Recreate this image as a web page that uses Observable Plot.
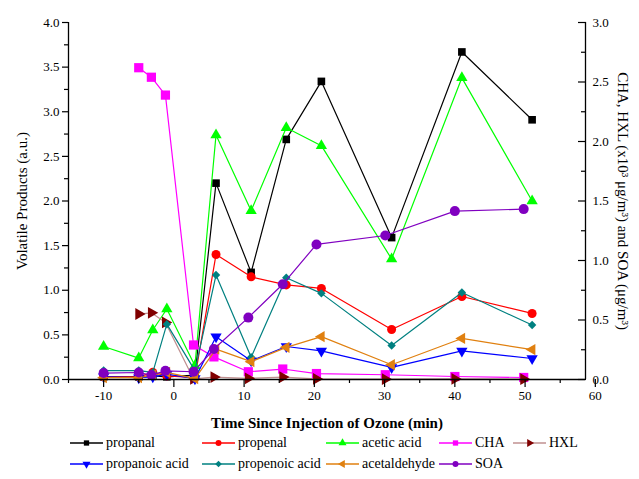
<!DOCTYPE html>
<html>
<head>
<meta charset="utf-8">
<script src="https://cdn.jsdelivr.net/npm/d3@7"></script>
<script src="https://cdn.jsdelivr.net/npm/@observablehq/plot@0.6"></script>
<style>
  html, body { margin: 0; padding: 0; background: #fff; }
  #wrap { width: 639px; height: 479px; position: relative; font-family: "Liberation Serif", "DejaVu Serif", serif; }
  #legend { position: relative; width: 639px; height: 47px; font-size: 14px; font-family: "Liberation Serif", "DejaVu Serif", serif; }
  .item { position: absolute; display: flex; align-items: center; height: 21px; white-space: nowrap; }
  .item svg { margin-right: 3px; }
  #chart svg text { font-family: "Liberation Serif", "DejaVu Serif", serif; }
</style>
</head>
<body>
<div id="wrap"><div id="chart"></div><div id="legend"></div></div>
<script>
// ---- data ----
const timeVolatile = [-10, -5, -3, -1, 3, 6, 11, 16, 21, 31, 41, 51];
const timeAerosol = [-10, -5, -3.2, -1.2, 2.8, 5.7, 10.6, 15.5, 20.3, 30.1, 40, 49.8];
const timeCHA = [-5, -3.2, -1.2, 2.8, 5.7, 10.6, 15.5, 20.3, 30.1, 40, 49.8];

// left axis (a.u.)
const propanal     = [0.03, 0.03, 0.04, 0.03, 0.05, 2.20, 1.20, 2.69, 3.34, 1.59, 3.67, 2.91];
const propenal     = [0.03, 0.03, 0.08, 0.04, 0.02, 1.40, 1.15, 1.06, 1.02, 0.56, 0.93, 0.74];
const aceticAcid   = [0.37, 0.24, 0.555, 0.79, 0.155, 2.74, 1.89, 2.82, 2.62, 1.35, 3.38, 2.00];
const propanoicAcid= [0.03, 0.02, 0.03, 0.06, 0.01, 0.48, 0.21, 0.37, 0.32, 0.135, 0.32, 0.235];
const propenoicAcid= [0.10, 0.10, 0.08, 0.62, 0.10, 1.17, 0.25, 1.14, 0.965, 0.38, 0.975, 0.61];
const acetaldehyde = [0.02, 0.02, 0.05, 0.08, 0.01, 0.34, 0.20, 0.36, 0.48, 0.165, 0.46, 0.335];
// right axis (x10^3 ug/m3 for CHA, HXL; ug/m3 for SOA)
const cha = [2.62, 2.54, 2.39, 0.29, 0.19, 0.065, 0.088, 0.05, 0.04, 0.025, 0.017];
const hxl = [0.55, 0.56, 0.48, 0.005, 0.02, 0.01, 0.02, 0.005, 0.003, 0.005, 0.003];
const soa = [0.054, 0.059, 0.037, 0.073, 0.065, 0.256, 0.52, 0.80, 1.135, 1.21, 1.415, 1.432];

const leftTicks = [0, 0.5, 1.0, 1.5, 2.0, 2.5, 3.0, 3.5, 4.0];
const rightTicks = [0, 0.5, 1.0, 1.5, 2.0, 2.5, 3.0];
const xTicks = [-10, 0, 10, 20, 30, 40, 50, 60];

// ---- symbols ----
function tri(angle) {
  const c = Math.cos(angle), s = Math.sin(angle);
  return {
    draw(ctx, size) {
      const y = -Math.sqrt(size / (Math.sqrt(3) * 3));
      const pts = [[0, 2 * y], [-Math.sqrt(3) * y, -y], [Math.sqrt(3) * y, -y]]
        .map(([px, py]) => [px * c - py * s, px * s + py * c]);
      ctx.moveTo(pts[0][0], pts[0][1]);
      ctx.lineTo(pts[1][0], pts[1][1]);
      ctx.lineTo(pts[2][0], pts[2][1]);
      ctx.closePath();
    }
  };
}
const triUp = tri(0), triDown = tri(Math.PI), triRight = tri(Math.PI / 2), triLeft = tri(-Math.PI / 2);

const ratio = 0.75; // right value = left value * 0.75

const series = [
  {name: "propanal", t: timeVolatile, v: propanal, right: false, color: "#000000", line: "#000000", symbol: "square", r: 4.3},
  {name: "propenal", t: timeVolatile, v: propenal, right: false, color: "#ff0000", line: "#ff0000", symbol: "circle", r: 4.5},
  {name: "acetic acid", t: timeVolatile, v: aceticAcid, right: false, color: "#00ff00", line: "#00ff00", symbol: triUp, r: 4.2},
  {name: "CHA", t: timeCHA, v: cha, right: true, color: "#ff00ff", line: "#ff00ff", symbol: "square", r: 5.2},
  {name: "HXL", t: timeCHA, v: hxl, right: true, color: "#800000", line: "#c09090", symbol: triRight, r: 4.4},
  {name: "propanoic acid", t: timeVolatile, v: propanoicAcid, right: false, color: "#0000ff", line: "#0000ff", symbol: triDown, r: 4.2},
  {name: "propenoic acid", t: timeVolatile, v: propenoicAcid, right: false, color: "#008080", line: "#008080", symbol: "diamond2", r: 3.8},
  {name: "acetaldehyde", t: timeVolatile, v: acetaldehyde, right: false, color: "#e08010", line: "#e08010", symbol: triLeft, r: 4.2},
  {name: "SOA", t: timeAerosol, v: soa, right: true, color: "#8000c0", line: "#8000c0", symbol: "circle", r: 5}
];

const marks = [];
for (const s of series) {
  const data = s.t.map((t, i) => ({t, y: s.right ? s.v[i] / ratio : s.v[i]}));
  marks.push(Plot.line(data, {x: "t", y: "y", stroke: s.line, strokeWidth: 1.2}));
  marks.push(Plot.dot(data, {x: "t", y: "y", symbol: s.symbol, fill: s.color, stroke: "none", r: s.r}));
}

const minorLeft = d3.range(0.25, 4, 0.5);
const minorRight = d3.range(0.25, 3, 0.5).map(r => r / ratio);
const minorX = [-15, -5, 5, 15, 25, 35, 45, 55];
const xMax = 58.6;
const serif = "\"Liberation Serif\", \"DejaVu Serif\", serif";

const chart = Plot.plot({
  width: 639,
  height: 432,
  marginLeft: 68,
  marginRight: 54,
  marginTop: 22,
  marginBottom: 53,
  style: {fontFamily: serif, fontSize: "13px", background: "#fff", color: "#000", overflow: "visible"},
  x: {domain: [-15, xMax]},
  y: {domain: [0, 4]},
  marks: [
    ...marks,
    Plot.ruleX([-15], {stroke: "#000", strokeWidth: 1.3}),
    Plot.ruleX([xMax], {stroke: "#000", strokeWidth: 1.3}),
    Plot.ruleY([0], {stroke: "#000", strokeWidth: 1.3}),
    Plot.axisY({ticks: leftTicks, tickFormat: d3.format(".1f"), tickSize: 6, tickPadding: 3, label: null, strokeWidth: 1.2}),
    Plot.axisY({ticks: minorLeft, tickFormat: () => "", tickSize: 4, label: null, strokeWidth: 1.2}),
    Plot.axisY({anchor: "right", ticks: rightTicks.map(r => r / ratio), tickFormat: d => (d * ratio).toFixed(1), tickSize: -8, tickPadding: 15, label: null, strokeWidth: 1.2}),
    Plot.axisY({anchor: "right", ticks: minorRight, tickFormat: () => "", tickSize: -5, label: null, strokeWidth: 1.2}),
    Plot.axisX({ticks: xTicks, tickFormat: d => String(d), tickSize: 8, tickPadding: 3, label: null, strokeWidth: 1.2}),
    Plot.axisX({ticks: minorX, tickFormat: () => "", tickSize: 4, label: null, strokeWidth: 1.2}),
    Plot.text(["Volatile Products (a.u.)"], {frameAnchor: "left", textAnchor: "middle", lineAnchor: "middle", rotate: -90, dx: -46, fontSize: 15}),
    Plot.text(["CHA, HXL (x10³ μg/m³) and SOA (μg/m³)"], {frameAnchor: "right", textAnchor: "middle", lineAnchor: "middle", rotate: 90, dx: 37, fontSize: 15}),
    Plot.text(["Time Since Injection of Ozone (min)"], {frameAnchor: "bottom", textAnchor: "middle", lineAnchor: "middle", dy: 44, fontSize: 15, fontWeight: "bold"})
  ]
});
document.getElementById("chart").appendChild(chart);

// ---- legend (HTML below the SVG) ----
const legendPos = [
  [70, 0], [202, 0], [326, 0], [439, 0], [513, 0],
  [70, 1], [202, 1], [326, 1], [439, 1]
];
const legend = document.getElementById("legend");
series.forEach((s, i) => {
  const [lx, row] = legendPos[i];
  const div = document.createElement("div");
  div.className = "item";
  div.style.left = lx + "px";
  div.style.top = (row * 21) + "px";
  const sw = d3.create("svg").attr("width", 33).attr("height", 12);
  sw.append("line").attr("x1", 0).attr("x2", 33).attr("y1", 6).attr("y2", 6).attr("stroke", s.line).attr("stroke-width", 1.5);
  const sym = typeof s.symbol === "string"
    ? ({square: d3.symbolSquare, circle: d3.symbolCircle, diamond2: d3.symbolDiamond2})[s.symbol]
    : s.symbol;
  sw.append("path").attr("transform", "translate(16.5,6)").attr("d", d3.symbol(sym, 28)()).attr("fill", s.color);
  div.appendChild(sw.node());
  const span = document.createElement("span");
  span.textContent = s.name;
  div.appendChild(span);
  legend.appendChild(div);
});
</script>
</body>
</html>
